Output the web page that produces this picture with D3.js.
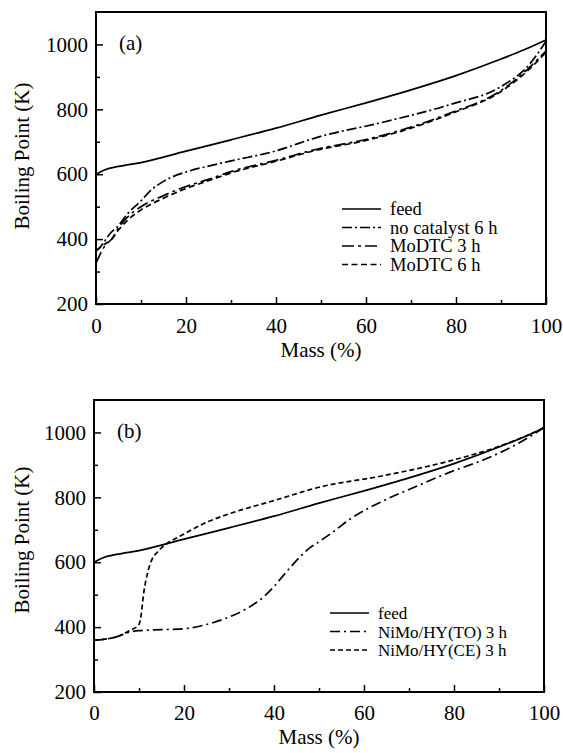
<!DOCTYPE html>
<html>
<head>
<meta charset="utf-8">
<script src="https://cdn.jsdelivr.net/npm/d3@7"></script>
<style>
  body { margin: 0; background: #fff; }
</style>
</head>
<body>
<div id="chart"></div>
<script>
// ---- data (mass %, boiling point K) ----
var feed = [[0,600],[2,614],[5,624],[10,636],[20,671],[30,706],[40,742],[50,782],[60,820],[70,860],[80,904],[90,955],[95,983],[100,1014]];

var noCatalyst6h = [[0,364],[0.5,369],[1.5,386],[3,415],[5,442],[7,478],[10,518],[12,548],[15,578],[20,607],[25,625],[30,641],[40,672],[49,713],[64,761],[79,816],[90,870],[96.4,940],[100,1010]];
var moDTC3h = [[0,326],[0.8,350],[2,380],[3.5,400],[5,435],[7,468],[10,500],[15,534],[20,562],[25,584],[30,608],[40,643],[49,677],[60,707],[70,745],[79,790],[90,858],[96,925],[100,980]];
var moDTC6h = [[0,365],[1,375],[2,385],[3.5,400],[5,428],[7,458],[10,490],[15,526],[20,556],[25,580],[30,604],[40,640],[49,674],[60,704],[70,742],[79,787],[90,855],[96,920],[100,976]];

var niMoTO3h = [[0,360],[3,364],[5,370],[8,385],[10,389],[15,392],[20,395],[25,408],[30,431],[33,450],[36,475],[38,497],[40,525],[42,558],[44,590],[46,620],[48,645],[50,663],[53,692],[57,734],[64.4,790],[72,836],[79,877],[87,918],[94,964],[100,1015]];
var niMoCE3h = [[0,360],[3,364],[5,370],[8,390],[10,408],[10.5,440],[11,500],[12,572],[13,612],[14,630],[16,656],[18,672],[20,687],[25,723],[30,749],[40,790],[50,831],[64.4,867],[79.3,913],[90.4,959],[97,995],[100,1015]];

var xMajor = [0, 20, 40, 60, 80, 100];
var xMinor = [10, 30, 50, 70, 90];
var yMajor = [200, 400, 600, 800, 1000];
var yMinor = [300, 500, 700, 900];

var namesA = ["feed", "no catalyst 6 h", "MoDTC 3 h", "MoDTC 6 h"];
var namesB = ["feed", "NiMo/HY(TO) 3 h", "NiMo/HY(CE) 3 h"];

var serif = "'Liberation Serif', 'Times New Roman', serif";

var svg = d3.select("#chart").append("svg")
  .attr("width", 563)
  .attr("height", 753)
  .attr("font-family", serif);

function drawPanel(p) {
  var x = d3.scaleLinear().domain([0, 100]).range([p.left, p.right]);
  var y = d3.scaleLinear().domain([200, 1100]).range([p.bottom, p.top]);
  var g = svg.append("g");

  // ticks (inward)
  g.append("g")
    .attr("transform", "translate(0," + p.bottom + ")")
    .call(d3.axisBottom(x).tickValues(xMajor).tickFormat(d3.format("d"))
      .tickSizeInner(-7).tickSizeOuter(0).tickPadding(p.xPad))
    .call(function (a) { a.select(".domain").remove(); })
    .attr("font-family", serif).attr("font-size", 21);
  g.append("g")
    .attr("transform", "translate(0," + p.bottom + ")")
    .call(d3.axisBottom(x).tickValues(xMinor).tickSizeInner(-4).tickSizeOuter(0).tickFormat(""))
    .call(function (a) { a.select(".domain").remove(); });
  g.append("g")
    .attr("transform", "translate(" + p.left + ",0)")
    .call(d3.axisLeft(y).tickValues(yMajor).tickFormat(d3.format("d"))
      .tickSizeInner(-7).tickSizeOuter(0).tickPadding(8))
    .call(function (a) { a.select(".domain").remove(); })
    .attr("font-family", serif).attr("font-size", 21);
  g.append("g")
    .attr("transform", "translate(" + p.left + ",0)")
    .call(d3.axisLeft(y).tickValues(yMinor).tickSizeInner(-4).tickSizeOuter(0).tickFormat(""))
    .call(function (a) { a.select(".domain").remove(); });
  g.selectAll(".tick line").attr("stroke", "#000").attr("stroke-width", 1.5);
  g.selectAll(".tick text").attr("fill", "#000");

  // frame
  g.append("rect")
    .attr("x", p.left).attr("y", p.top)
    .attr("width", p.right - p.left).attr("height", p.bottom - p.top)
    .attr("fill", "none").attr("stroke", "#000").attr("stroke-width", 2);

  // curves
  var line = d3.line()
    .x(function (d) { return x(d[0]); })
    .y(function (d) { return y(d[1]); })
    .curve(d3.curveMonotoneX);
  p.series.forEach(function (s, i) {
    g.append("path")
      .datum(s)
      .attr("d", line)
      .attr("fill", "none")
      .attr("stroke", "#000")
      .attr("stroke-width", 1.7)
      .attr("stroke-dasharray", p.dashes[i]);
  });

  // legend
  p.names.forEach(function (n, i) {
    var ly = p.legY + i * p.legStep;
    g.append("line")
      .attr("x1", p.legX).attr("x2", p.legX + 39)
      .attr("y1", ly - 6).attr("y2", ly - 6)
      .attr("stroke", "#000").attr("stroke-width", 1.7)
      .attr("stroke-dasharray", p.dashes[i]);
    g.append("text")
      .attr("x", p.legX + 48).attr("y", ly)
      .attr("font-size", p.legFont)
      .text(n);
  });

  // panel label and titles
  g.append("text").attr("x", p.left + 23).attr("y", p.top + 38)
    .attr("font-size", 21).text(p.label);
  g.append("text")
    .attr("transform", "translate(29," + p.yTitle + ") rotate(-90)")
    .attr("text-anchor", "middle")
    .attr("font-size", 21)
    .text("Boiling Point (K)");
  g.append("text")
    .attr("x", (p.left + p.right) / 2).attr("y", p.xTitle)
    .attr("text-anchor", "middle")
    .attr("font-size", 21)
    .text("Mass (%)");
}

drawPanel({
  left: 96, right: 546, top: 12, bottom: 304, xPad: 14,
  series: [feed, noCatalyst6h, moDTC3h, moDTC6h],
  dashes: [null, "10,3,2,3", "12,4,3,4", "6,3.5"],
  names: namesA, legX: 342, legY: 215, legStep: 18.5, legFont: 18.5,
  label: "(a)", yTitle: 156, xTitle: 357
});

drawPanel({
  left: 94, right: 544, top: 400, bottom: 692, xPad: 13,
  series: [feed, niMoTO3h, niMoCE3h],
  dashes: [null, "10,4,2,4", "5,3"],
  names: namesB, legX: 330, legY: 619, legStep: 18.5, legFont: 17,
  label: "(b)", yTitle: 540, xTitle: 744
});
</script>
</body>
</html>
